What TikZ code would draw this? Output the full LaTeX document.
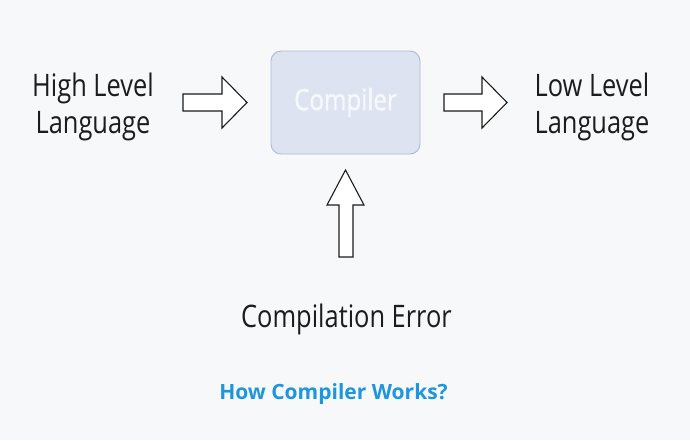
\documentclass[tikz,border=0pt]{standalone}
\usepackage{fontspec}
\setmainfont{Open Sans}
\newfontfamily\labfont[FakeStretch=0.82]{Open Sans}
\newfontfamily\boxfont[FakeStretch=0.82,FakeBold=1.2]{Open Sans}
\definecolor{bgc}{HTML}{F7F8FA}
\definecolor{boxfill}{HTML}{DDE3F0}
\definecolor{boxline}{HTML}{AEBAD4}
\definecolor{boxtext}{HTML}{F6F8FC}
\definecolor{titleblue}{HTML}{1E96DC}
\definecolor{ink}{HTML}{1C1C1C}
\tikzset{
  label text/.style={font=\labfont\fontsize{31}{37}\selectfont, text=ink, align=center, inner sep=0pt},
  blockarrow/.style={draw=ink, line width=1.1pt, fill=white, line join=miter},
  compbox/.style={draw=boxline, fill=boxfill, line width=0.9pt, rounded corners=10pt,
    minimum width=149pt, minimum height=103pt, text=boxtext,
    font=\boxfont\fontsize{29.4}{34}\selectfont},
}
\begin{document}
\begin{tikzpicture}[x=1pt,y=-1pt]
\fill[bgc] (0,0) rectangle (690,440);
\useasboundingbox (0,0) rectangle (690,440);

\node[compbox] (comp) at (345.5,102.5) {Compiler};

\node[label text, anchor=center] (hll) at (93,106.5) {High Level\\Language};
\node[label text, anchor=center] (lll) at (592,106.5) {Low Level\\Language};

\node[font=\labfont\fontsize{31}{37}\selectfont, text=ink, inner sep=0pt, anchor=base] (err) at (346.5,327) {Compilation Error};

\node[font=\bfseries\fontsize{21}{25}\selectfont, text=titleblue, inner sep=0pt, anchor=base] (title) at (333.5,399) {How Compiler Works?};

% left block arrow
\draw[blockarrow] (183,94) -- (222,94) -- (222,77) -- (247,102.5) -- (222,128) -- (222,111) -- (183,111) -- cycle;
% right block arrow
\draw[blockarrow] (444,94) -- (482,94) -- (482,77) -- (507,102.5) -- (482,128) -- (482,111) -- (444,111) -- cycle;
% up block arrow
\draw[blockarrow] (339,257) -- (339,205) -- (327,205) -- (345.5,170) -- (364,205) -- (353,205) -- (353,257) -- cycle;
\end{tikzpicture}
\end{document}
